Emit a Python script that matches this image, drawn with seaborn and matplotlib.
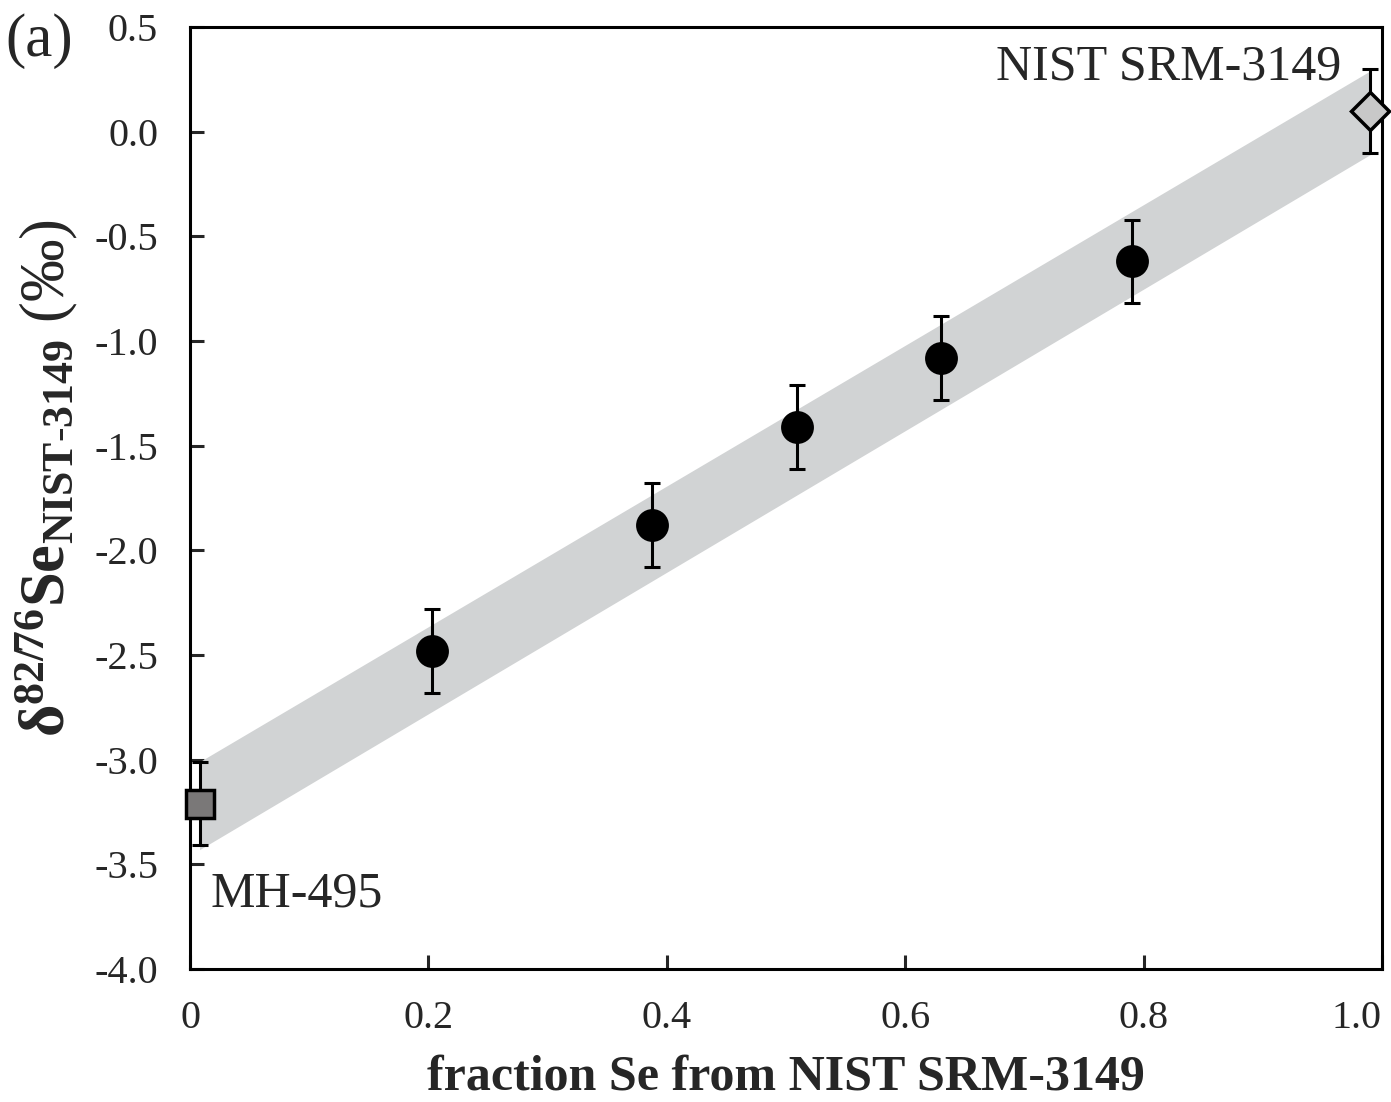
import numpy as np
import pandas as pd
import matplotlib
matplotlib.use('Agg')
import matplotlib.pyplot as plt
import seaborn as sns

# mixture data
mix_frac = [0.203, 0.388, 0.509, 0.630, 0.790]
mix_delta = [-2.48, -1.88, -1.41, -1.08, -0.62]
mix_err = [0.2, 0.2, 0.2, 0.2, 0.2]

# end members
mh_frac, mh_delta, mh_err = 0.008, -3.21, 0.2
nist_frac, nist_delta, nist_err = 0.99, 0.10, 0.2

# mixing band (upper / lower edge at both ends)
band_x = [0.008, 0.99]
band_hi = [-3.01, 0.29]
band_lo = [-3.43, -0.11]

xticks = [0, 0.2, 0.4, 0.6, 0.8, 1.0]
xticklabels = ['0', '0.2', '0.4', '0.6', '0.8', '1.0']
yticks = [0.5, 0.0, -0.5, -1.0, -1.5, -2.0, -2.5, -3.0, -3.5, -4.0]

sns.set_style('ticks')
plt.rcParams['font.family'] = ['Liberation Serif', 'DejaVu Serif']
plt.rcParams['mathtext.fontset'] = 'custom'
plt.rcParams['mathtext.rm'] = 'Liberation Serif'
plt.rcParams['mathtext.it'] = 'Liberation Serif:italic'
plt.rcParams['mathtext.bf'] = 'Liberation Serif:bold'
plt.rcParams['axes.unicode_minus'] = False

fig = plt.figure(figsize=(13.91, 11.02), dpi=100)
ax = fig.add_axes([0.1366, 0.1207, 0.8569, 0.8548])

ax.fill_between(band_x, band_lo, band_hi, color='#d1d3d4', lw=0, zorder=1)

df = pd.DataFrame({'frac': mix_frac, 'delta': mix_delta})
ebar = dict(fmt='none', ecolor='black', elinewidth=2.2, capsize=5.5, capthick=2.2, zorder=2)
ax.errorbar(mix_frac, mix_delta, yerr=mix_err, **ebar)
sns.scatterplot(data=df, x='frac', y='delta', ax=ax, color='black', s=560,
                edgecolor='black', linewidth=0, zorder=3, legend=False)

ax.errorbar([mh_frac], [mh_delta], yerr=[mh_err], clip_on=False, **ebar)
ax.plot([mh_frac], [mh_delta], marker='s', ms=20, mfc='#7a7878', mec='black',
        mew=2.5, ls='none', zorder=4, clip_on=False)

ax.errorbar([nist_frac], [nist_delta], yerr=[nist_err], clip_on=False, **ebar)
ax.plot([nist_frac], [nist_delta], marker='D', ms=19, mfc='#c8c8c8', mec='black',
        mew=2.5, ls='none', zorder=4, clip_on=False)

ax.text(0.017, -3.70, 'MH-495', fontsize=36, ha='left', va='baseline')
ax.text(0.966, 0.247, 'NIST SRM-3149', fontsize=36, ha='right', va='baseline')

ax.set_xlim(0, 1.0)
ax.set_ylim(-4.0, 0.5)
ax.set_xticks(xticks)
ax.set_xticklabels(xticklabels)
ax.set_yticks(yticks)
ax.set_yticklabels(['%.1f' % v for v in yticks])
ax.tick_params(direction='in', length=10, width=2.2, labelsize=29)
ax.tick_params(axis='x', pad=22)
ax.tick_params(axis='y', pad=23)
ax.get_xticklabels()[-1].set_horizontalalignment('right')
for s in ax.spines.values():
    s.set_linewidth(2.2)
    s.set_color('black')

ax.set_xlabel('fraction Se from NIST SRM-3149', fontsize=36, fontweight='bold', labelpad=13)
ax.set_ylabel(r'$\mathbf{\delta^{82/76}}$' + r'$\mathbf{Se_{NIST\text{-}3149}}$' + ' (‰)',
              fontsize=45)
ax.yaxis.set_label_coords(-0.092, 0.521)

fig.text(0.004, 0.963, '(a)', fontsize=44, ha='left', va='center')

fig.savefig('out.png', dpi=100)
